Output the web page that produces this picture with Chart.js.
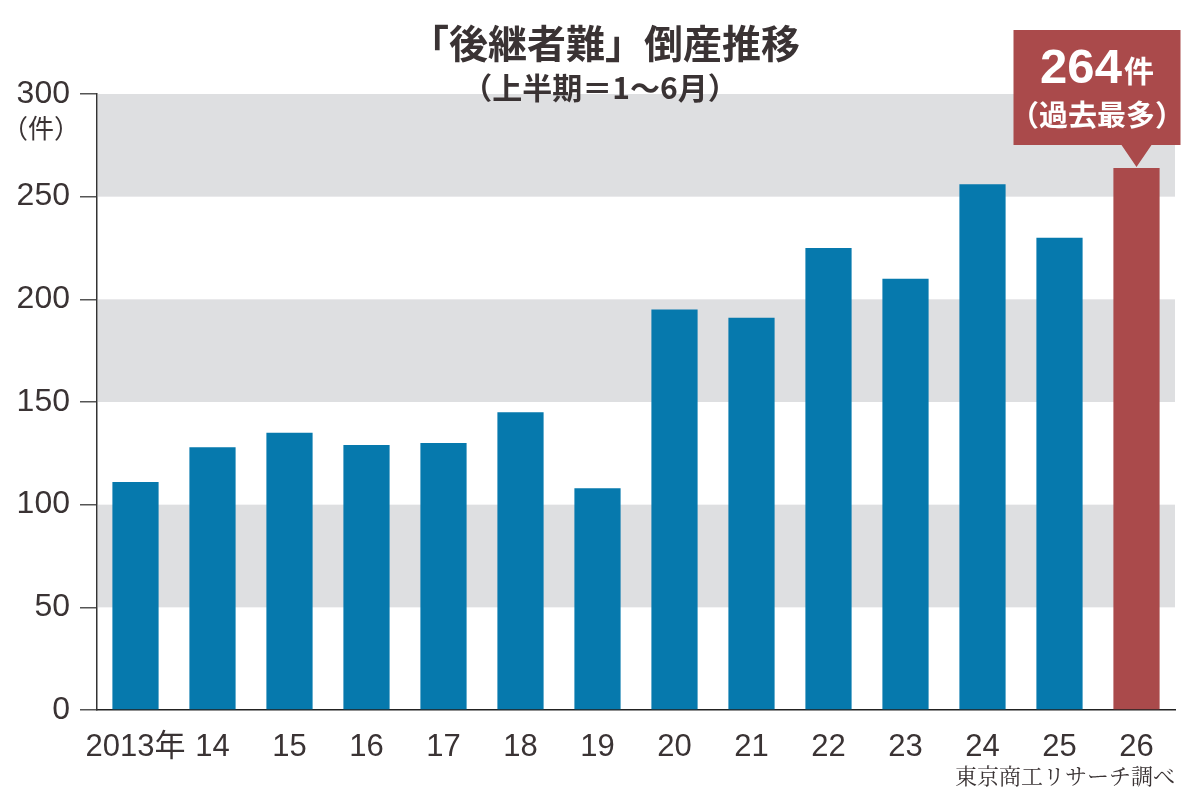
<!DOCTYPE html>
<html lang="ja">
<head>
<meta charset="utf-8">
<script src="https://cdn.jsdelivr.net/npm/chart.js@4.4.1/dist/chart.umd.min.js"></script>
<style>
  html, body { margin: 0; padding: 0; background: #ffffff; }
  #wrap { width: 1200px; height: 803px; }
</style>
</head>
<body>
<div id="wrap"><canvas id="grafico" width="1200" height="803"></canvas></div>
<script>
// ===== dados =====
const anos = ['2013年', '14', '15', '16', '17', '18', '19', '20', '21', '22', '23', '24', '25', '26'];
const casos = [111, 128, 135, 129, 130, 145, 108, 195, 191, 225, 210, 256, 230, 264];
const faixasCinza = [[250, 300], [150, 200], [50, 100]];
const titulo = '「後継者難」倒産推移';
const subtitulo = '（上半期＝1～6月）';
const unidade = '（件）';
const destaqueValor = '264';
const destaqueUnidade = '件';
const destaqueNota = '（過去最多）';
const fonte = '東京商工リサーチ調べ';

const AZUL = '#0679ad';
const VERMELHO = '#aa4a4b';
const CINZA = '#dedfe1';
const TEXTO = '#3a3334';
const NUM_FONT = "'Liberation Sans', Arial, 'Noto Sans CJK JP', sans-serif";
const JP_FONT = "'Noto Sans CJK JP', 'Noto Sans', sans-serif";

const cores = casos.map((v, i) => i === casos.length - 1 ? VERMELHO : AZUL);

// faixas cinzas de fundo
const pluginFaixas = {
  id: 'faixas',
  beforeDatasetsDraw(chart) {
    const { ctx, chartArea, scales } = chart;
    ctx.save();
    ctx.fillStyle = CINZA;
    faixasCinza.forEach(([a, b]) => {
      const y1 = scales.y.getPixelForValue(b);
      const y2 = scales.y.getPixelForValue(a);
      ctx.fillRect(chartArea.left + 1, y1, chartArea.right - chartArea.left - 1, y2 - y1);
    });
    ctx.restore();
  }
};

// titulos, unidade, fonte e balão de destaque
const pluginTextos = {
  id: 'textos',
  afterDatasetsDraw(chart) {
    const { ctx, chartArea } = chart;
    ctx.save();
    ctx.fillStyle = TEXTO;
    ctx.textAlign = 'center';
    ctx.textBaseline = 'middle';
    ctx.font = `bold 39px ${JP_FONT}`;
    ctx.fillText(titulo, 605, 43);
    ctx.font = `bold 30px ${JP_FONT}`;
    ctx.fillText(subtitulo, 600, 88);

    ctx.font = `26px ${JP_FONT}`;
    ctx.fillText(unidade, 41, 128);

    ctx.textAlign = 'right';
    ctx.font = `22px 'Noto Serif CJK JP', ${JP_FONT}`;
    ctx.fillText(fonte, chartArea.right, 776);

    // balão
    const meta = chart.getDatasetMeta(0);
    const bar = meta.data[meta.data.length - 1];
    const bx = bar.x;
    const topo = bar.y;
    const esq = bx - 123, dir = bx + 44, cima = 30, baixo = 145;
    ctx.fillStyle = VERMELHO;
    ctx.beginPath();
    ctx.moveTo(esq, cima);
    ctx.lineTo(dir, cima);
    ctx.lineTo(dir, baixo);
    ctx.lineTo(bx + 15, baixo);
    ctx.lineTo(bx, topo - 1);
    ctx.lineTo(bx - 15, baixo);
    ctx.lineTo(esq, baixo);
    ctx.closePath();
    ctx.fill();

    ctx.fillStyle = '#ffffff';
    ctx.textBaseline = 'alphabetic';
    ctx.textAlign = 'left';
    ctx.font = `bold 49px ${NUM_FONT}`;
    const w1 = ctx.measureText(destaqueValor).width;
    ctx.font = `bold 30px ${JP_FONT}`;
    const w2 = ctx.measureText(destaqueUnidade).width;
    const cx = (esq + dir) / 2;
    let x0 = cx - (w1 + w2 + 2) / 2;
    ctx.font = `bold 49px ${NUM_FONT}`;
    ctx.fillText(destaqueValor, x0, 83);
    ctx.font = `bold 30px ${JP_FONT}`;
    ctx.fillText(destaqueUnidade, x0 + w1 + 2, 82);
    ctx.textAlign = 'center';
    ctx.textBaseline = 'middle';
    ctx.font = `bold 29px ${JP_FONT}`;
    ctx.fillText(destaqueNota, cx, 115);
    ctx.restore();
  }
};

new Chart(document.getElementById('grafico'), {
  type: 'bar',
  data: {
    labels: anos,
    datasets: [{
      data: casos,
      backgroundColor: cores,
      borderWidth: 0,
      categoryPercentage: 1,
      barPercentage: 0.6
    }]
  },
  options: {
    responsive: false,
    animation: false,
    devicePixelRatio: 1,
    layout: { padding: { top: 94, right: 25, left: 0, bottom: 0 } },
    plugins: { legend: { display: false }, tooltip: { enabled: false } },
    scales: {
      x: {
        grid: { display: false, drawTicks: false },
        border: { display: true, color: '#222', width: 1.5 },
        ticks: {
          color: TEXTO,
          font: { family: NUM_FONT, size: 31 },
          padding: 19,
          maxRotation: 0,
          autoSkip: false
        },
        afterFit(scale) { scale.height = 93; }
      },
      y: {
        min: 0,
        max: 300,
        grid: { drawOnChartArea: false, drawTicks: true, tickLength: 17, color: '#555', lineWidth: 1.5 },
        border: { display: true, color: '#333', width: 1.5 },
        ticks: {
          stepSize: 50,
          color: TEXTO,
          font: { family: NUM_FONT, size: 32 },
          padding: 10
        },
        afterFit(scale) { scale.width = 97; }
      }
    }
  },
  plugins: [pluginFaixas, pluginTextos]
});
</script>
</body>
</html>
